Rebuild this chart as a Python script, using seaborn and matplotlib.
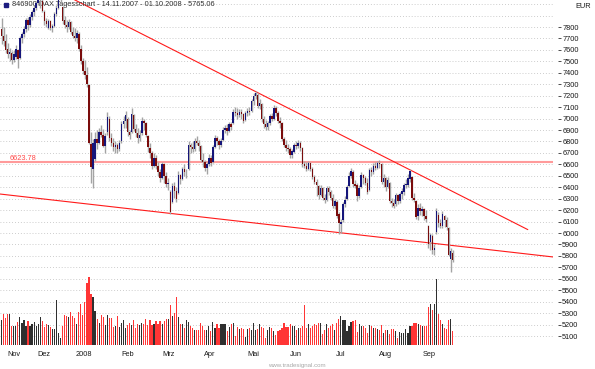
import numpy as np
import pandas as pd
import matplotlib
matplotlib.use('Agg')
import matplotlib.pyplot as plt
import seaborn as sns

# Chart texts
title = '846900 DAX Tagesschart - 14.11.2007 - 01.10.2008 - 5765.06'
currency = 'EUR'
watermark = 'www.tradesignal.com'

# Trading days per month (Nov 2007 .. Oct 2008) and their axis labels
month_labels = ['Nov', 'Dez', '2008', 'Feb', 'Mrz', 'Apr', 'Mai', 'Jun', 'Jul', 'Aug', 'Sep', '']
month_days = [13, 17, 22, 21, 19, 22, 21, 21, 23, 21, 22, 1]

# Daily OHLC, one line per month
opens = [
    7780, 7720, 7680, 7610, 7560, 7575, 7510, 7540, 7600, 7530, 7700, 7740, 7780,
    7860, 7820, 7890, 7930, 7970, 8010, 8040, 8030, 7930, 7850, 7790, 7850, 7790, 7810, 7910, 7970, 8040,
    7975, 7860, 7820, 7800, 7840, 7760, 7720, 7700, 7740, 7610, 7500, 7420, 7380, 7290, 6780, 6560, 6650, 6820, 6790, 6880, 6860, 6760,
    6880, 7000, 6830, 6790, 6750, 6770, 6730, 6800, 6950, 6980, 7000, 6880, 6880, 7030, 6910, 6870, 6830, 6870, 6980, 6960, 6850,
    6740, 6700, 6590, 6660, 6590, 6530, 6480, 6600, 6500, 6430, 6360, 6270, 6410, 6370, 6350, 6510, 6470, 6560, 6530,
    6560, 6770, 6750, 6730, 6800, 6790, 6760, 6640, 6620, 6570, 6600, 6660, 6620, 6750, 6830, 6800, 6770, 6810, 6900, 6920, 6890, 6950,
    6960, 7060, 7050, 7030, 7060, 7040, 6990, 7050, 7070, 7070, 7150, 7200, 7210, 7110, 7130, 7000, 6950, 6930, 6960, 7020, 7000,
    7090, 7050, 6980, 6960, 6820, 6770, 6740, 6730, 6680, 6710, 6770, 6760, 6790, 6740, 6600, 6590, 6560, 6610, 6560, 6490, 6450,
    6410, 6330, 6390, 6310, 6290, 6390, 6360, 6310, 6240, 6270, 6170, 6080, 6110, 6250, 6300, 6410, 6500, 6530, 6430, 6420, 6320, 6400, 6510,
    6480, 6440, 6380, 6550, 6530, 6590, 6570, 6610, 6600, 6450, 6480, 6400, 6440, 6280, 6260, 6250, 6330, 6280, 6340, 6360, 6420,
    6420, 6470, 6490, 6310, 6280, 6150, 6220, 6190, 6210, 6150, 6060, 5920, 5970, 5850, 6010, 6160, 6090, 6060, 6150, 6110, 6040, 5770,
    5830,
]
highs = [
    7880, 7800, 7740, 7660, 7620, 7590, 7600, 7640, 7610, 7720, 7760, 7810, 7880,
    7890, 7910, 7950, 7990, 8030, 8060, 8076, 8060, 7950, 7880, 7870, 7860, 7830, 7930, 7990, 8060, 8100,
    7985, 7900, 7860, 7870, 7850, 7800, 7790, 7770, 7760, 7640, 7530, 7510, 7450, 7300, 6880, 6820, 6880, 6900, 6920, 6940, 6910, 6870,
    7060, 7020, 6870, 6830, 6800, 6790, 6810, 6980, 7020, 7070, 7010, 6900, 7090, 7040, 6950, 6920, 6900, 7010, 6995, 6970, 6860,
    6790, 6720, 6700, 6680, 6620, 6560, 6620, 6610, 6530, 6480, 6380, 6440, 6450, 6400, 6540, 6520, 6580, 6600, 6560,
    6800, 6790, 6800, 6830, 6850, 6810, 6770, 6700, 6640, 6620, 6690, 6680, 6770, 6860, 6850, 6820, 6830, 6930, 6940, 6950, 6970, 6970,
    7080, 7100, 7090, 7080, 7080, 7050, 7070, 7090, 7100, 7170, 7220, 7245, 7220, 7170, 7140, 7020, 6990, 6980, 7040, 7050, 7120,
    7110, 7070, 7010, 6970, 6840, 6810, 6780, 6750, 6730, 6790, 6800, 6810, 6800, 6750, 6630, 6620, 6630, 6620, 6580, 6510, 6470,
    6420, 6420, 6400, 6340, 6410, 6410, 6380, 6340, 6300, 6290, 6180, 6120, 6270, 6320, 6420, 6530, 6570, 6550, 6460, 6440, 6420, 6530, 6520,
    6500, 6480, 6570, 6580, 6610, 6620, 6630, 6640, 6610, 6520, 6490, 6490, 6450, 6310, 6300, 6350, 6340, 6360, 6390, 6440, 6470,
    6520, 6560, 6500, 6350, 6290, 6250, 6260, 6240, 6220, 6200, 6070, 6000, 5990, 5900, 6220, 6180, 6120, 6190, 6160, 6140, 6050, 5870,
    5850,
]
lows = [
    7650, 7630, 7570, 7530, 7500, 7480, 7490, 7520, 7440, 7520, 7660, 7710, 7760,
    7770, 7800, 7860, 7900, 7950, 7990, 7970, 7930, 7820, 7800, 7780, 7770, 7760, 7800, 7900, 7960, 8000,
    7830, 7790, 7760, 7780, 7740, 7700, 7680, 7660, 7590, 7480, 7390, 7350, 7280, 6780, 6440, 6395, 6630, 6730, 6780, 6840, 6750, 6700,
    6860, 6800, 6760, 6720, 6700, 6700, 6720, 6790, 6920, 6920, 6850, 6820, 6870, 6890, 6840, 6790, 6800, 6860, 6900, 6840, 6710,
    6660, 6560, 6580, 6560, 6500, 6450, 6470, 6440, 6400, 6380, 6170, 6260, 6310, 6270, 6340, 6430, 6460, 6500, 6480,
    6550, 6700, 6710, 6720, 6770, 6720, 6620, 6580, 6540, 6520, 6590, 6590, 6610, 6740, 6770, 6730, 6750, 6800, 6870, 6860, 6880, 6900,
    6950, 7020, 7000, 7010, 7000, 6960, 6980, 7020, 7030, 7060, 7120, 7170, 7090, 7080, 6970, 6920, 6900, 6900, 6940, 6980, 6990,
    7020, 6960, 6920, 6800, 6750, 6720, 6700, 6660, 6660, 6700, 6730, 6740, 6720, 6580, 6570, 6540, 6550, 6540, 6470, 6430, 6320,
    6300, 6320, 6290, 6260, 6280, 6330, 6290, 6220, 6210, 6130, 5990, 6000, 6100, 6230, 6290, 6400, 6480, 6400, 6390, 6280, 6310, 6390, 6430,
    6420, 6340, 6370, 6500, 6520, 6550, 6560, 6570, 6430, 6400, 6370, 6390, 6260, 6230, 6220, 6240, 6250, 6260, 6300, 6330, 6390,
    6400, 6450, 6290, 6270, 6120, 6110, 6160, 6150, 6110, 6100, 5870, 5850, 5820, 5810, 5990, 6050, 6040, 6040, 6050, 6030, 5800, 5660,
    5750,
]
closes = [
    7720, 7680, 7600, 7560, 7580, 7510, 7560, 7610, 7520, 7700, 7740, 7780, 7860,
    7820, 7890, 7930, 7970, 8010, 8040, 8060, 7940, 7850, 7830, 7850, 7790, 7810, 7910, 7970, 8040, 8067,
    7850, 7820, 7800, 7840, 7760, 7720, 7700, 7750, 7610, 7500, 7420, 7380, 7300, 6790, 6580, 6790, 6820, 6790, 6880, 6860, 6760, 6850,
    7010, 6830, 6790, 6750, 6770, 6730, 6790, 6950, 6980, 7030, 6880, 6860, 7040, 6910, 6870, 6830, 6860, 6980, 6960, 6860, 6750,
    6700, 6590, 6660, 6590, 6530, 6480, 6600, 6500, 6430, 6440, 6182, 6410, 6370, 6300, 6510, 6470, 6560, 6530, 6535,
    6770, 6750, 6730, 6800, 6790, 6760, 6640, 6620, 6570, 6600, 6660, 6610, 6750, 6830, 6800, 6770, 6800, 6900, 6920, 6890, 6950, 6930,
    7060, 7050, 7030, 7060, 7040, 6980, 7050, 7070, 7060, 7150, 7200, 7220, 7110, 7140, 7000, 6950, 6930, 6960, 7020, 7000, 7096,
    7050, 6980, 6960, 6820, 6770, 6740, 6730, 6680, 6720, 6770, 6760, 6790, 6740, 6600, 6590, 6560, 6610, 6560, 6490, 6450, 6418,
    6330, 6390, 6310, 6290, 6390, 6360, 6310, 6240, 6280, 6150, 6090, 6100, 6250, 6290, 6400, 6500, 6540, 6430, 6410, 6320, 6390, 6510, 6479,
    6440, 6360, 6550, 6530, 6590, 6570, 6610, 6600, 6450, 6480, 6400, 6460, 6280, 6260, 6240, 6330, 6280, 6340, 6370, 6420, 6422,
    6480, 6540, 6310, 6290, 6140, 6220, 6190, 6210, 6150, 6120, 5900, 5980, 5850, 5870, 6190, 6090, 6060, 6170, 6110, 6050, 5810, 5840,
    5765,
]

# Daily volume (relative units)
volumes = [
    25, 31, 27, 31, 31, 19, 19, 19, 23, 28, 22, 25, 19,
    24, 19, 21, 23, 19, 21, 28, 24, 18, 21, 20, 18, 16, 16, 45, 12, 7,
    19, 30, 29, 28, 33, 29, 27, 21, 33, 41, 30, 43, 62, 68, 51, 48, 34, 26, 22, 30, 28, 20,
    30, 27, 27, 18, 19, 29, 18, 22, 25, 17, 20, 22, 20, 25, 17, 21, 20, 22, 21, 26, 20,
    25, 20, 21, 24, 21, 24, 21, 24, 26, 26, 40, 29, 32, 48, 28, 21, 21, 17, 25,
    23, 19, 17, 15, 15, 15, 22, 19, 15, 15, 19, 14, 23, 17, 21, 17, 21, 21, 21, 14, 18, 21,
    22, 9, 18, 16, 17, 16, 8, 16, 17, 15, 22, 15, 16, 21, 18, 17, 7, 15, 18, 17, 14,
    10, 14, 15, 17, 22, 18, 18, 21, 19, 19, 15, 17, 17, 19, 40, 17, 21, 17, 19, 21, 20,
    22, 22, 11, 15, 21, 17, 19, 21, 15, 22, 26, 29, 25, 25, 14, 19, 23, 24, 25, 13, 21, 19, 19,
    17, 12, 20, 19, 17, 17, 16, 15, 20, 12, 15, 15, 11, 16, 16, 14, 7, 13, 12, 12, 16,
    12, 19, 19, 22, 22, 21, 20, 19, 19, 19, 38, 41, 35, 41, 66, 31, 25, 21, 17, 16, 25, 26,
    14,
]

# Drawn lines: horizontal level and two trend lines (day index, price)
level = 6623.78
upper_days = [29, 259]
upper_vals = [8100, 6030]
lower_days = [-0.8, 272]
lower_vals = [6341, 5790]

sns.set_style('white')
plt.rcParams['font.family'] = ['Liberation Sans', 'DejaVu Sans']

fig = plt.figure(figsize=(5.95, 3.69), dpi=100)
ax = fig.add_axes([0, 1 - 345 / 369, 553 / 595, 345 / 369])
ax2 = ax.twinx()

days = np.arange(len(closes))
o = np.array(opens, dtype=float)
h = np.array(highs, dtype=float)
l = np.array(lows, dtype=float)
c = np.array(closes, dtype=float)
up = c >= o

# volume bars on a twin axis at the bottom
prev_up = np.r_[True, c[1:] >= c[:-1]]
vol_df = pd.DataFrame({'day': days, 'volume': volumes,
                       'side': np.where(prev_up, 'up', 'down')})
sns.barplot(data=vol_df, x='day', y='volume', hue='side', hue_order=['up', 'down'],
            palette={'up': '#2f2f2f', 'down': '#ff3535'}, native_scale=True,
            dodge=False, width=0.58, errorbar=None, saturation=1, legend=False,
            linewidth=0, ax=ax2)
ax2.set_ylim(0, 345)
ax2.set_axis_off()

# candles
ax.vlines(days, l, h, color='#a4a4a4', lw=1.0, zorder=3)
ax.bar(days, np.maximum(np.abs(c - o), 5), bottom=np.minimum(o, c), width=0.72,
       color=np.where(up, '#15157a', '#7a0c0c'), linewidth=0, zorder=4)

# level and trend lines
ax.axhline(level, color='#ff9a9a', lw=1.5, zorder=2)
ax.annotate(f'{level:.2f}', xy=(10 / 553, level), xycoords=('axes fraction', 'data'),
            xytext=(0, 1.4), textcoords='offset points', va='baseline', ha='left',
            fontsize=5.3, color='#ff4a4a')
sns.lineplot(x=upper_days, y=upper_vals, color='#ff1a1a', lw=0.8, ax=ax, zorder=2)
sns.lineplot(x=lower_days, y=lower_vals, color='#ff1a1a', lw=0.8, ax=ax, zorder=2)

# axes limits and grid
ax.set_xlim(-0.79, 271.4)
ax.set_ylim(5022, 8036)
grid_style = dict(color='#bcbcbc', lw=0.6, linestyle=(0, (1, 2.5)), zorder=0)
for g in np.arange(5100, 8001, 100):
    ax.axhline(g, **grid_style)

ax.yaxis.tick_right()
ax.set_yticks(np.arange(5100, 7801, 100))
ax.spines['right'].set_position(('outward', 3.5))
ax.tick_params(axis='y', which='major', length=1.9, width=0.6, color='#303030',
               pad=1.2, labelsize=5.3, labelcolor='#1a1a1a')

starts = np.cumsum([0] + month_days[:-1])
centers = starts + (np.array(month_days) - 1) / 2
ax.set_xticks(centers[:11])
ax.set_xticklabels(month_labels[:11])
ax.set_xticks(starts[1:11], minor=True)
ax.tick_params(axis='x', which='major', length=0, pad=4.5, labelsize=5.3,
               labelcolor='#1a1a1a')
ax.tick_params(axis='x', which='minor', length=2.2, width=0.6, color='#808080',
               direction='out')
for s in ax.spines.values():
    s.set_visible(False)
ax.set_xlabel('')
ax.set_ylabel('')

# header texts
ax.plot([6 / 553], [1 - 5 / 345], marker='s', ms=3, color='#1c1c80',
        transform=ax.transAxes, clip_on=False, zorder=2)
ax.text(12 / 553, 1 - 5 / 345, title, transform=ax.transAxes, ha='left', va='center',
        fontsize=5.3, color='#303030', zorder=2)
fig.text(583 / 595, 1 - 6 / 369, currency, ha='center', va='center', fontsize=5.3,
         color='#1a1a1a')
fig.text(297 / 595, 1 - 365 / 369, watermark, ha='center', va='center', fontsize=4.4,
         color='#a8a8a8')

fig.savefig('out.png', dpi=100)
